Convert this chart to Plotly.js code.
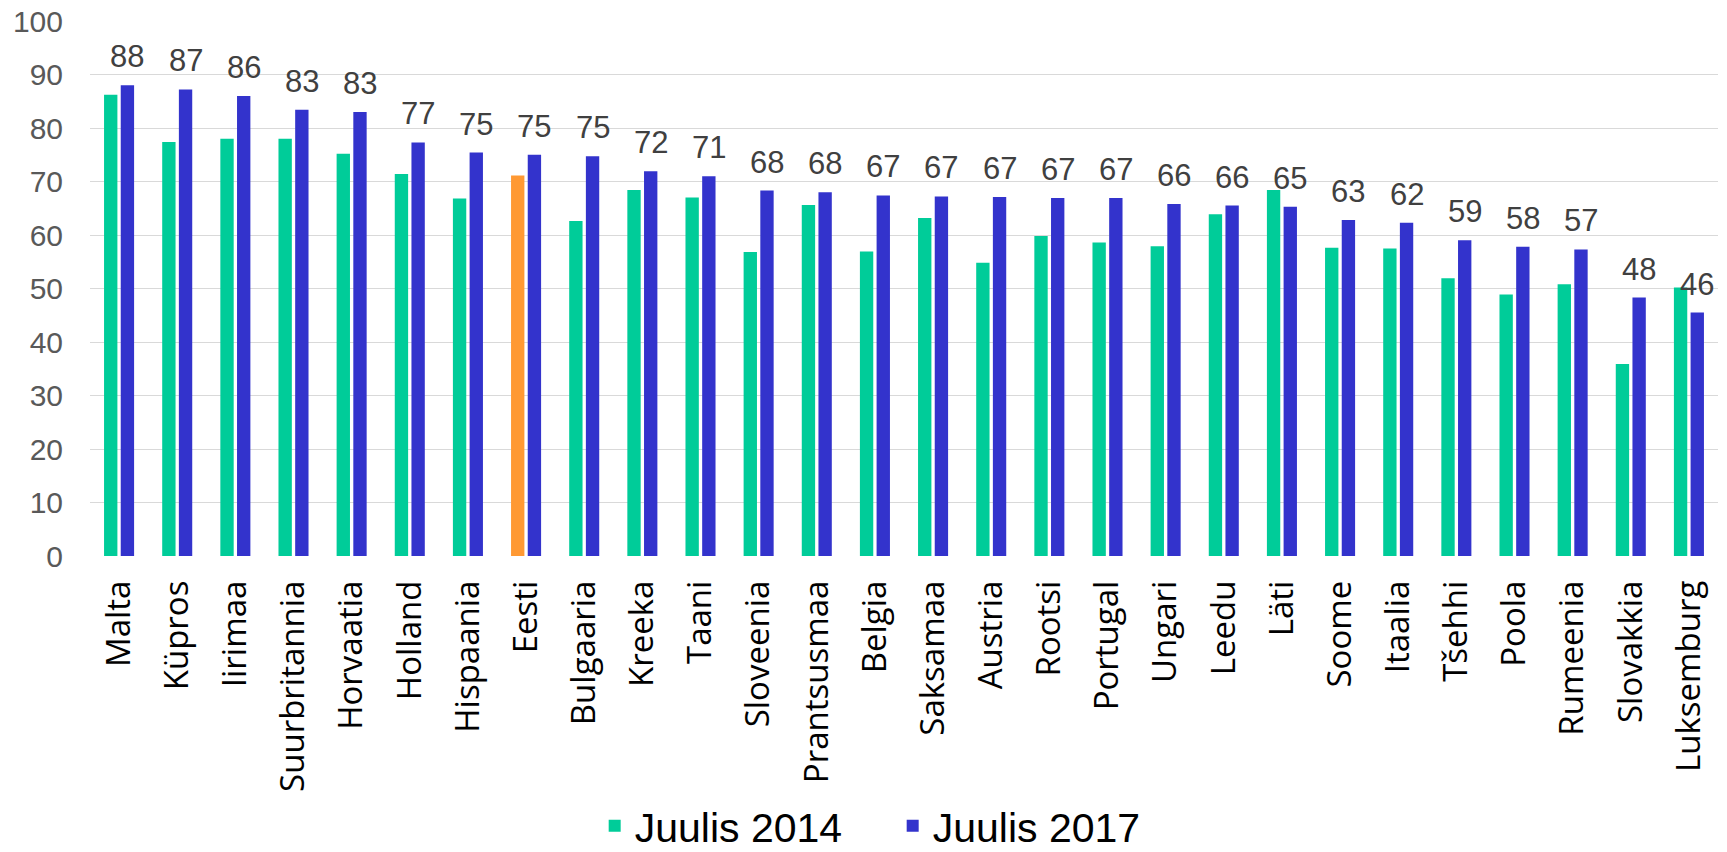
<!DOCTYPE html>
<html>
<head>
<meta charset="utf-8">
<script src="https://cdn.plot.ly/plotly-3.0.1.min.js"></script>
<style>
  html, body { margin: 0; padding: 0; background: #ffffff; }
  #chart { width: 1727px; height: 852px; }
</style>
</head>
<body>
<div id="chart"></div>
<script>
const categories = ["Malta", "Küpros", "Iirimaa", "Suurbritannia", "Horvaatia", "Holland", "Hispaania", "Eesti", "Bulgaaria", "Kreeka", "Taani", "Sloveenia", "Prantsusmaa", "Belgia", "Saksamaa", "Austria", "Rootsi", "Portugal", "Ungari", "Leedu", "Läti", "Soome", "Itaalia", "Tšehhi", "Poola", "Rumeenia", "Slovakkia", "Luksemburg"];
const july2014 = [86.2, 77.4, 78.0, 78.0, 75.2, 71.4, 66.8, 71.1, 62.6, 68.4, 67.0, 56.8, 65.6, 56.9, 63.2, 54.8, 59.8, 58.6, 57.9, 63.9, 68.4, 57.6, 57.5, 51.9, 48.9, 50.8, 35.9, 50.2];
const july2017 = [88.0, 87.2, 86.0, 83.4, 83.0, 77.3, 75.4, 75.0, 74.7, 71.9, 71.0, 68.3, 68.0, 67.4, 67.2, 67.1, 66.9, 66.9, 65.8, 65.5, 65.3, 62.8, 62.3, 59.0, 57.8, 57.3, 48.3, 45.5];
const seriesNames = ["Juulis 2014", "Juulis 2017"];
const highlightCategory = "Eesti";

const colorGreen = "#00CC99";
const colorBlue = "#3333CC";
const colorOrange = "#FF9933";

const colors2014 = categories.map(c => c === highlightCategory ? colorOrange : colorGreen);

const traces = [
  {
    type: "bar",
    name: seriesNames[0],
    x: categories,
    y: july2014,
    marker: { color: colors2014, line: { width: 0 } },
    hoverinfo: "x+y"
  },
  {
    type: "bar",
    name: seriesNames[1],
    x: categories,
    y: july2017,
    marker: { color: colorBlue, line: { width: 0 } },
    hoverinfo: "x+y"
  }
];

const annotations = categories.map((c, i) => ({
  x: c,
  y: july2017[i],
  xref: "x",
  yref: "y",
  text: String(Math.round(july2017[i])),
  showarrow: false,
  xanchor: "center",
  yanchor: "bottom",
  xshift: 8.4,
  yshift: 9,
  font: { family: "Liberation Sans, Arial, sans-serif", size: 31, color: "#404040" }
}));

const layout = {
  width: 1727,
  height: 852,
  paper_bgcolor: "#ffffff",
  plot_bgcolor: "#ffffff",
  margin: { l: 90, r: 9, t: 21, b: 296, pad: 0, autoexpand: false },
  barmode: "group",
  bargap: 0.426,
  bargroupgap: 0.2,
  showlegend: true,
  legend: {
    orientation: "h",
    x: 0.31,
    xanchor: "left",
    y: -0.5047,
    yanchor: "middle",
    entrywidth: 253,
    entrywidthmode: "pixels",
    font: { family: "Liberation Sans, Arial, sans-serif", size: 41, color: "#000000" },
    bgcolor: "rgba(0,0,0,0)"
  },
  xaxis: {
    type: "category",
    tickangle: -90,
    tickfont: { family: "Open Sans, sans-serif", size: 33, color: "#000000" },
    ticks: "",
    ticklabelstandoff: 17,
    showgrid: false,
    showline: false,
    zeroline: false,
    automargin: false,
    fixedrange: true
  },
  yaxis: {
    range: [0, 100],
    tick0: 0,
    dtick: 10,
    tickfont: { family: "Liberation Sans, Arial, sans-serif", size: 30, color: "#595959" },
    showgrid: true,
    gridcolor: "#D9D9D9",
    gridwidth: 1.3,
    zeroline: false,
    showline: false,
    ticks: "",
    ticklabelstandoff: 26,
    automargin: false,
    fixedrange: true
  },
  annotations: annotations
};

Plotly.newPlot("chart", traces, layout, { displayModeBar: false, responsive: false });
</script>
</body>
</html>
